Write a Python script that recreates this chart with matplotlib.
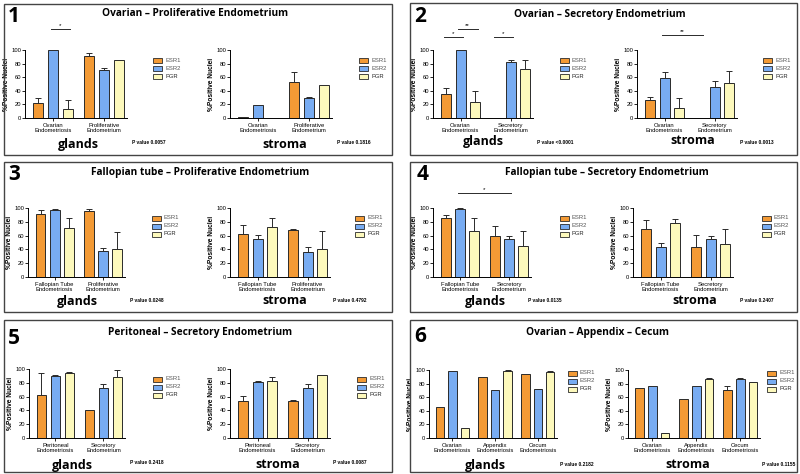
"""
Six-panel ESR1 / ESR2 / PGR positive-nuclei bar charts (glands and stroma).
"""

import matplotlib
matplotlib.use("Agg")
import matplotlib.pyplot as plt
from matplotlib.patches import Rectangle
import numpy as np

W, H = 800, 474

# ---- data ----
series = ["ESR1", "ESR2", "PGR"]

p1_cats = ["Ovarian\nEndometriosis", "Proliferative\nEndometrium"]
p1_gl_esr1, p1_gl_esr1_err = [22, 91], [8, 4]
p1_gl_esr2, p1_gl_esr2_err = [100, 71], [0, 3]
p1_gl_pgr, p1_gl_pgr_err = [13, 85], [13, 0]
p1_st_esr1, p1_st_esr1_err = [1.5, 53], [0, 15]
p1_st_esr2, p1_st_esr2_err = [19, 30], [0, 1.5]
p1_st_pgr, p1_st_pgr_err = [0.5, 48], [0, 0]

p2_cats = ["Ovarian\nEndometriosis", "Secretory\nEndometrium"]
p2_gl_esr1, p2_gl_esr1_err = [36, 0.5], [8, 0]
p2_gl_esr2, p2_gl_esr2_err = [100, 82], [0, 3]
p2_gl_pgr, p2_gl_pgr_err = [23, 72], [17, 14]
p2_st_esr1, p2_st_esr1_err = [26, 0.5], [5, 0]
p2_st_esr2, p2_st_esr2_err = [59, 45], [8, 9]
p2_st_pgr, p2_st_pgr_err = [15, 51], [15, 18]

p3_cats = ["Fallopian Tube\nEndometriosis", "Proliferative\nEndometrium"]
p3_gl_esr1, p3_gl_esr1_err = [92, 96], [5, 2]
p3_gl_esr2, p3_gl_esr2_err = [97, 37], [2, 5]
p3_gl_pgr, p3_gl_pgr_err = [71, 41], [14, 24]
p3_st_esr1, p3_st_esr1_err = [62, 68], [13, 2]
p3_st_esr2, p3_st_esr2_err = [55, 36], [6, 7]
p3_st_pgr, p3_st_pgr_err = [73, 41], [12, 25]

p4_cats = ["Fallopian Tube\nEndometriosis", "Secretory\nEndometrium"]
p4_gl_esr1, p4_gl_esr1_err = [85, 59], [5, 15]
p4_gl_esr2, p4_gl_esr2_err = [99, 55], [0.5, 5]
p4_gl_pgr, p4_gl_pgr_err = [67, 45], [18, 22]
p4_st_esr1, p4_st_esr1_err = [69, 44], [14, 17]
p4_st_esr2, p4_st_esr2_err = [43, 55], [6, 5]
p4_st_pgr, p4_st_pgr_err = [78, 48], [6, 22]

p5_cats = ["Peritoneal\nEndometriosis", "Secretory\nEndometrium"]
p5_gl_esr1, p5_gl_esr1_err = [62, 41], [32, 0]
p5_gl_esr2, p5_gl_esr2_err = [90, 72], [1, 6]
p5_gl_pgr, p5_gl_pgr_err = [94, 89], [2, 10]
p5_st_esr1, p5_st_esr1_err = [54, 54], [7, 1]
p5_st_esr2, p5_st_esr2_err = [81, 72], [2, 6]
p5_st_pgr, p5_st_pgr_err = [82, 91], [7, 1]

p6_cats = ["Ovarian\nEndometriosis", "Appendix\nEndometriosis", "Cecum\nEndometriosis"]
p6_gl_esr1, p6_gl_esr1_err = [46, 89, 94], [0, 0, 0]
p6_gl_esr2, p6_gl_esr2_err = [99, 70, 72], [0, 0, 0.5]
p6_gl_pgr, p6_gl_pgr_err = [15, 99, 97], [0, 0.5, 1]
p6_st_esr1, p6_st_esr1_err = [74, 58, 71], [0, 0, 6]
p6_st_esr2, p6_st_esr2_err = [77, 77, 87], [0, 0, 1]
p6_st_pgr, p6_st_pgr_err = [7, 87, 82], [1, 1, 1]

titles = [
    "Ovarian \u2013 Proliferative Endometrium",
    "Ovarian \u2013 Secretory Endometrium",
    "Fallopian tube \u2013 Proliferative Endometrium",
    "Fallopian tube \u2013 Secretory Endometrium",
    "Peritoneal \u2013 Secretory Endometrium",
    "Ovarian \u2013 Appendix \u2013 Cecum",
]
p_glands = ["P value 0.0057", "P value <0.0001", "P value 0.0248",
            "P value 0.0135", "P value 0.2418", "P value 0.2182"]
p_stroma = ["P value 0.1816", "P value 0.0013", "P value 0.4792",
            "P value 0.2407", "P value 0.0087", "P value 0.1155"]

# significance brackets: (panel, part, (group, bar), (group, bar), label, y)
sig_marks = [
    (0, "gl", (0, 1), (0, 2), "*", 131),
    (1, "gl", (0, 0), (0, 1), "*", 119),
    (1, "gl", (0, 1), (0, 2), "**", 131),
    (1, "gl", (1, 0), (1, 1), "*", 119),
    (1, "st", (0, 1), (1, 0), "**", 122),
    (3, "gl", (0, 1), (1, 1), "*", 122),
]

colors = ["#f39a35", "#78acf2", "#fdf9bc"]
edge = "#2a2a2a"
plt.rcParams["font.family"] = ["Liberation Sans", "DejaVu Sans"]

# ---- layout in reference pixels ----
boxes = [(4, 4, 392, 155), (410, 3, 797, 155),
         (4, 162, 392, 312), (410, 162, 797, 312),
         (4, 320, 392, 472), (410, 320, 797, 472)]
gl_axes = [(25, 50, 127, 118), (433, 50, 533, 118),
           (28, 208, 125, 277), (433, 208, 531, 277),
           (29, 369, 125, 438), (429, 370, 557, 438)]
st_axes = [(230, 50, 332, 118), (637, 50, 737, 118),
           (230, 208, 330, 277), (633, 208, 733, 277),
           (230, 369, 330, 438), (628, 370, 760, 438)]
gl_leg = [(153, 60), (560, 60), (152, 218), (560, 218), (153, 379), (568, 373)]
st_leg = [(359, 60), (763, 60), (355, 218), (762, 218), (357, 379), (767, 373)]
num_pos = [(14, 17), (420, 17), (14, 175), (423, 175), (14, 338), (420, 336)]
title_pos = [(195, 14), (600, 14), (200, 173), (607, 173), (200, 332), (598, 332)]
gl_lab = [(78, 145), (483, 141), (77, 301), (485, 301), (72, 465), (485, 465)]
st_lab = [(285, 145), (693, 141), (285, 301), (695, 301), (278, 465), (688, 465)]
gl_p = [(132, 142), (537, 142), (130, 300), (528, 300), (130, 462), (560, 465)]
st_p = [(337, 142), (740, 142), (333, 300), (740, 300), (333, 462), (762, 465)]

panels = [
    (p1_cats, [p1_gl_esr1, p1_gl_esr2, p1_gl_pgr], [p1_gl_esr1_err, p1_gl_esr2_err, p1_gl_pgr_err],
     [p1_st_esr1, p1_st_esr2, p1_st_pgr], [p1_st_esr1_err, p1_st_esr2_err, p1_st_pgr_err]),
    (p2_cats, [p2_gl_esr1, p2_gl_esr2, p2_gl_pgr], [p2_gl_esr1_err, p2_gl_esr2_err, p2_gl_pgr_err],
     [p2_st_esr1, p2_st_esr2, p2_st_pgr], [p2_st_esr1_err, p2_st_esr2_err, p2_st_pgr_err]),
    (p3_cats, [p3_gl_esr1, p3_gl_esr2, p3_gl_pgr], [p3_gl_esr1_err, p3_gl_esr2_err, p3_gl_pgr_err],
     [p3_st_esr1, p3_st_esr2, p3_st_pgr], [p3_st_esr1_err, p3_st_esr2_err, p3_st_pgr_err]),
    (p4_cats, [p4_gl_esr1, p4_gl_esr2, p4_gl_pgr], [p4_gl_esr1_err, p4_gl_esr2_err, p4_gl_pgr_err],
     [p4_st_esr1, p4_st_esr2, p4_st_pgr], [p4_st_esr1_err, p4_st_esr2_err, p4_st_pgr_err]),
    (p5_cats, [p5_gl_esr1, p5_gl_esr2, p5_gl_pgr], [p5_gl_esr1_err, p5_gl_esr2_err, p5_gl_pgr_err],
     [p5_st_esr1, p5_st_esr2, p5_st_pgr], [p5_st_esr1_err, p5_st_esr2_err, p5_st_pgr_err]),
    (p6_cats, [p6_gl_esr1, p6_gl_esr2, p6_gl_pgr], [p6_gl_esr1_err, p6_gl_esr2_err, p6_gl_pgr_err],
     [p6_st_esr1, p6_st_esr2, p6_st_pgr], [p6_st_esr1_err, p6_st_esr2_err, p6_st_pgr_err]),
]

BAR_W = 0.2
OFFS = [-0.29, 0.0, 0.29]

fig = plt.figure(figsize=(8, 4.74), dpi=100)
fig.patch.set_facecolor("white")


def fx(x):
    return x / W


def fy(y):
    return 1 - y / H


def px_axes(box):
    l, t, r, b = box
    return fig.add_axes([fx(l), fy(b), (r - l) / W, (b - t) / H])


def bar_chart(ax, cats, vals, errs):
    x = np.arange(len(cats))
    for i in range(3):
        v = np.array(vals[i], dtype=float)
        e = np.array(errs[i], dtype=float)
        ax.bar(x + OFFS[i], v, width=BAR_W, color=colors[i], edgecolor=edge,
               linewidth=0.7, zorder=2)
        show = e > 0
        if show.any():
            ax.errorbar((x + OFFS[i])[show], v[show],
                        yerr=[np.zeros(show.sum()), e[show]],
                        fmt="none", ecolor=edge, elinewidth=0.7,
                        capsize=2, capthick=0.7, zorder=1)
    ax.set_xlim(-0.55, len(cats) - 0.55)
    ax.set_ylim(0, 100)
    ax.set_yticks([0, 20, 40, 60, 80, 100])
    ax.tick_params(axis="y", labelsize=4.2, length=2, width=0.6, pad=0.8)
    ax.set_xticks(x)
    ax.set_xticklabels(cats, fontsize=4.2, linespacing=1.1)
    ax.tick_params(axis="x", length=2, width=0.6, pad=1.5)
    for s in ("top", "right"):
        ax.spines[s].set_visible(False)
    for s in ("left", "bottom"):
        ax.spines[s].set_linewidth(0.7)
    ax.set_ylabel("%Positive Nuclei", fontsize=4.8, fontweight="bold", labelpad=0.8)
    ax.patch.set_alpha(0)


def legend(x, y):
    for i, name in enumerate(series):
        yy = y + i * 8
        fig.add_artist(Rectangle((fx(x), fy(yy + 2.5)), 9 / W, 5 / H,
                                 transform=fig.transFigure, facecolor=colors[i],
                                 edgecolor=edge, linewidth=0.6))
        fig.text(fx(x + 12), fy(yy), name, fontsize=4.2, va="center",
                 color="#555555" if i < 2 else "#222222")


for k, (cats, gv, ge, sv, se) in enumerate(panels):
    l, t, r, b = boxes[k]
    fig.add_artist(Rectangle((fx(l), fy(b)), (r - l) / W, (b - t) / H,
                             transform=fig.transFigure, fill=False,
                             edgecolor="#444444", linewidth=1.0))
    fig.text(fx(num_pos[k][0]), fy(num_pos[k][1]), str(k + 1), fontsize=15,
             fontweight="bold", family="Open Sans", ha="center", va="center")
    fig.text(fx(title_pos[k][0]), fy(title_pos[k][1]), titles[k], fontsize=7.3,
             fontweight="bold", family="Open Sans", ha="center", va="center")

    ax_g = px_axes(gl_axes[k])
    bar_chart(ax_g, cats, gv, ge)
    ax_s = px_axes(st_axes[k])
    bar_chart(ax_s, cats, sv, se)
    legend(*gl_leg[k])
    legend(*st_leg[k])

    fig.text(fx(gl_lab[k][0]), fy(gl_lab[k][1]), "glands", fontsize=9,
             fontweight="bold", family="Open Sans", ha="center", va="center")
    fig.text(fx(st_lab[k][0]), fy(st_lab[k][1]), "stroma", fontsize=9,
             fontweight="bold", family="Open Sans", ha="center", va="center")
    fig.text(fx(gl_p[k][0]), fy(gl_p[k][1]), p_glands[k], fontsize=3.5,
             fontweight="bold", va="center")
    fig.text(fx(st_p[k][0]), fy(st_p[k][1]), p_stroma[k], fontsize=3.5,
             fontweight="bold", va="center")

    for (pk, part, a, bb, lab, y) in sig_marks:
        if pk != k:
            continue
        ax = ax_g if part == "gl" else ax_s
        x0 = a[0] + OFFS[a[1]] - 0.05
        x1 = bb[0] + OFFS[bb[1]] + 0.05
        ax.plot([x0, x1], [y, y], color=edge, linewidth=0.7, clip_on=False)
        ax.text((x0 + x1) / 2, y + 1, lab, fontsize=4.5, ha="center",
                va="bottom", clip_on=False)

fig.savefig("out.png", dpi=100, facecolor="white")
plt.close(fig)
